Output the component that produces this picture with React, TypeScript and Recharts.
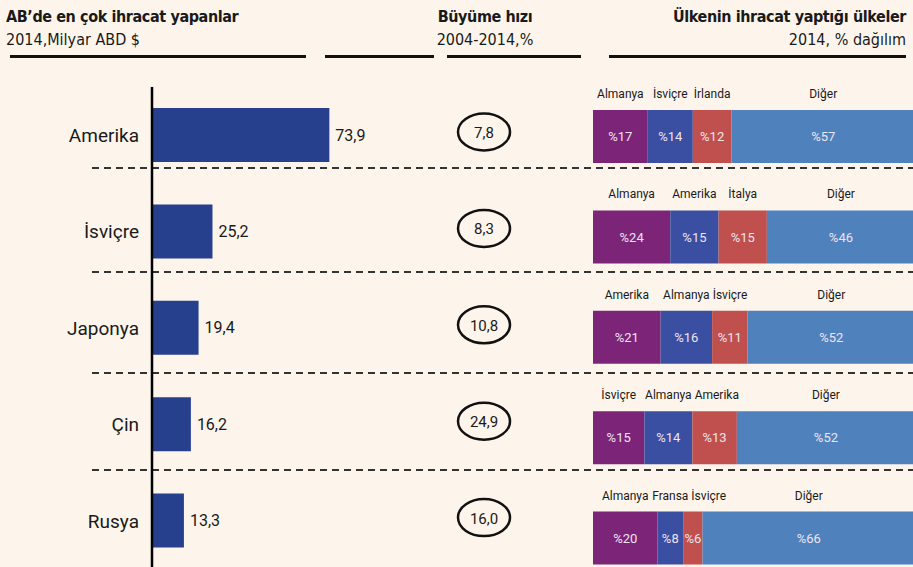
import { BarChart, Bar, XAxis, YAxis, LabelList } from "recharts";

const countries = ["Amerika", "İsviçre", "Japonya", "Çin", "Rusya"];
const exportValues = [73.9, 25.2, 19.4, 16.2, 13.3];
const growthRates = [7.8, 8.3, 10.8, 24.9, 16.0];

const firstPartner = ["Almanya", "Almanya", "Amerika", "İsviçre", "Almanya"];
const firstShare = [17, 24, 21, 15, 20];
const secondPartner = ["İsviçre", "Amerika", "Almanya", "Almanya", "Fransa"];
const secondShare = [14, 15, 16, 14, 8];
const thirdPartner = ["İrlanda", "İtalya", "İsviçre", "Amerika", "İsviçre"];
const thirdShare = [12, 15, 11, 13, 6];
const otherShare = [57, 46, 52, 52, 66];

const BG = "#FDF5EC";
const FONT = "Roboto, 'DejaVu Sans', sans-serif";
const HEAD_FONT = "'Liberation Sans Narrow', 'DejaVu Sans Condensed', sans-serif";
const SEG_COLORS = ["#7B2478", "#3A4EA2", "#C0504D", "#4F81BD"];

const leftData = countries.map((country, i) => ({
  country,
  value: exportValues[i],
  growth: growthRates[i],
}));

const rightData = countries.map((country, i) => ({
  country,
  s1: firstShare[i],
  s2: secondShare[i],
  s3: thirdShare[i],
  s4: otherShare[i],
  n1: firstPartner[i],
  n2: secondPartner[i],
  n3: thirdPartner[i],
  n4: "Diğer",
}));

const comma = (v: number) => v.toFixed(1).replace(".", ",");

// text width, so partner names do not run into each other
let ctx: CanvasRenderingContext2D | null = null;
function textWidth(s: string) {
  if (!ctx) ctx = document.createElement("canvas").getContext("2d");
  if (!ctx) return s.length * 6.5;
  ctx.font = `12px ${FONT}`;
  return ctx.measureText(s).width;
}

const labelRight: Record<string, number> = {};

function nameLabel(series: number) {
  return (props: any) => {
    const { x, y, width, value, index } = props;
    const w = textWidth(String(value));
    let left = Number(x) + Number(width) / 2 - w / 2;
    if (series === 0) left = Math.max(left, Number(x));
    else {
      const prev = labelRight[`${index}-${series - 1}`];
      if (prev !== undefined) left = Math.max(left, prev + 3);
    }
    labelRight[`${index}-${series}`] = left + w;
    return (
      <text
        x={left}
        y={Number(y) - 12}
        fontSize={12}
        fontFamily={FONT}
        fill="#1a1a1a"
      >
        {value}
      </text>
    );
  };
}

const growthBadge = (props: any) => {
  const { y, height, value } = props;
  const cy = Number(y) + Number(height) / 2 - 3;
  return (
    <g>
      <ellipse cx={484} cy={cy} rx={26} ry={18.5} fill="none" stroke="#111" strokeWidth={2.5} />
      <text
        x={484}
        y={cy + 1}
        textAnchor="middle"
        dominantBaseline="central"
        fontSize={15}
        fontFamily={FONT}
        fill="#1a1a1a"
      >
        {comma(Number(value))}
      </text>
    </g>
  );
};

const separators = [168, 272, 373, 470];

const head = { position: "absolute" as const, fontFamily: HEAD_FONT, fontSize: 16, letterSpacing: -0.4 };
const sub = { ...head, letterSpacing: 0 };

export default function App() {
  return (
    <div
      style={{
        position: "fixed",
        left: 0,
        top: 0,
        width: 913,
        height: 567,
        background: BG,
        overflow: "hidden",
        fontFamily: FONT,
        color: "#1a1a1a",
      }}
    >
      {/* headers */}
      <div style={{ ...head, left: 6, top: 7, fontWeight: 700 }}>AB’de en çok ihracat yapanlar</div>
      <div style={{ ...sub, left: 6, top: 30 }}>2014,Milyar ABD $</div>
      <div style={{ ...head, left: 385, width: 200, textAlign: "center", top: 7, fontWeight: 700 }}>Büyüme hızı</div>
      <div style={{ ...sub, left: 385, width: 200, textAlign: "center", top: 30 }}>2004-2014,%</div>
      <div style={{ ...head, right: 7, top: 7, fontWeight: 700 }}>Ülkenin ihracat yaptığı ülkeler</div>
      <div style={{ ...sub, right: 7, top: 30 }}>2014, % dağılım</div>
      {[
        [10, 306],
        [325, 434],
        [447, 581],
        [609, 906],
      ].map(([a, b]) => (
        <div key={a} style={{ position: "absolute", left: a, width: b - a, top: 55, height: 3, background: "#111" }} />
      ))}

      {/* dashed row separators */}
      <svg width={913} height={567} style={{ position: "absolute", left: 0, top: 0 }}>
        {separators.map((y) => (
          <line key={y} x1={92} x2={913} y1={y} y2={y} stroke="#333" strokeWidth={2} strokeDasharray="7 5" />
        ))}
      </svg>

      <div style={{ position: "absolute", left: 0, top: 0 }}>
        <BarChart
          width={560}
          height={569}
          data={leftData}
          layout="vertical"
          margin={{ top: 87, right: 168, left: 0, bottom: 0 }}
        >
          <XAxis type="number" domain={[0, 100]} hide />
          <YAxis
            type="category"
            dataKey="country"
            width={152}
            tickLine={false}
            tickSize={0}
            tickMargin={13}
            axisLine={{ stroke: "#000", strokeWidth: 2.5 }}
            tick={{ fontSize: 19, fill: "#1a1a1a", fontFamily: FONT }}
          />
          <Bar dataKey="value" fill="#26408E" barSize={54} isAnimationActive={false}>
            <LabelList
              dataKey="value"
              position="right"
              offset={6}
              formatter={(v: any) => comma(Number(v))}
              style={{ fontSize: 16, fill: "#1a1a1a", fontFamily: FONT }}
            />
            <LabelList dataKey="growth" content={growthBadge} />
          </Bar>
        </BarChart>
      </div>

      <div style={{ position: "absolute", left: 580, top: 0 }}>
        <BarChart
          width={335}
          height={588}
          data={rightData}
          layout="vertical"
          stackOffset="expand"
          margin={{ top: 86, right: 0, left: 13, bottom: 0 }}
        >
          <XAxis type="number" domain={[0, 1]} hide />
          <YAxis type="category" dataKey="country" hide />
          {["s1", "s2", "s3", "s4"].map((key, s) => (
            <Bar
              key={key}
              dataKey={key}
              stackId="a"
              fill={SEG_COLORS[s]}
              barSize={53}
              isAnimationActive={false}
            >
              <LabelList
                dataKey={key}
                position="center"
                formatter={(v: any) => `%${v}`}
                style={{ fontSize: 13, fill: "#EDE4F0", fontFamily: FONT }}
              />
              <LabelList dataKey={`n${s + 1}`} content={nameLabel(s)} />
            </Bar>
          ))}
        </BarChart>
      </div>
    </div>
  );
}
